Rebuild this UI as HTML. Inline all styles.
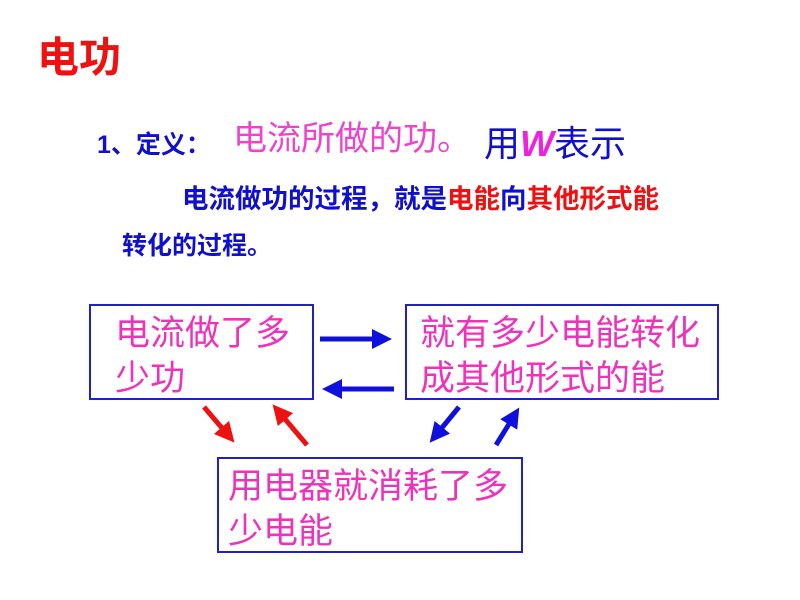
<!DOCTYPE html>
<html><head><meta charset="utf-8"><style>
body{margin:0;width:800px;height:600px;background:#fff;position:relative;overflow:hidden;font-family:"Liberation Sans","Noto Sans CJK SC",sans-serif}
.t{position:absolute;white-space:nowrap;line-height:1}
.box{position:absolute;border:2px solid #2020c8;box-sizing:border-box}
.p{color:#ee33bb}
</style></head><body>
<div class="t" style="left:37px;top:37px;font-size:42px;color:#ee1111;font-weight:bold">电功</div>
<div class="t" style="left:97px;top:133px;font-size:25px;color:#1010cc;font-weight:bold">1、定义：</div>
<div class="t p" style="left:233px;top:122px;font-size:34px;color:#ee44cc">电流所做的功。</div>
<div class="t" style="left:484px;top:126px;font-size:36px;color:#1010cc">用<span style="color:#ee22dd;font-weight:bold;font-style:italic">W</span>表示</div>
<div class="t" style="left:182px;top:186px;font-size:26.5px;color:#1010cc;font-weight:bold">电流做功的过程，就是<span style="color:#ee1111">电能</span>向<span style="color:#ee1111">其他形式能</span></div>
<div class="t" style="left:122px;top:234px;font-size:25px;color:#1010cc;font-weight:bold">转化的过程。</div>
<div class="box" style="left:89px;top:304px;width:225px;height:96px"></div>
<div class="box" style="left:405px;top:304px;width:314px;height:96px"></div>
<div class="box" style="left:217px;top:457px;width:306px;height:96px"></div>
<div class="t p" style="left:115px;top:311px;font-size:35px;line-height:45px">电流做了多<br>少功</div>
<div class="t p" style="left:420px;top:311px;font-size:35px;line-height:45px">就有多少电能转化<br>成其他形式的能</div>
<div class="t p" style="left:228px;top:464px;font-size:35px;line-height:45px">用电器就消耗了多<br>少电能</div>
<svg style="position:absolute;left:0;top:0" width="800" height="600">
<defs>
<marker id="b" markerWidth="4" markerHeight="4" refX="2" refY="2" orient="auto"><path d="M0,0L4,2L0,4z" fill="#1010dd"/></marker>
<marker id="r" markerWidth="4" markerHeight="4" refX="2" refY="2" orient="auto"><path d="M0,0L4,2L0,4z" fill="#ee1111"/></marker>
</defs>
<g stroke-width="5" fill="none">
<line x1="320" y1="339" x2="382" y2="339" stroke="#1010dd" marker-end="url(#b)"/>
<line x1="394" y1="389" x2="332" y2="389" stroke="#1010dd" marker-end="url(#b)"/>
<line x1="204" y1="407" x2="228" y2="435" stroke="#ee1111" marker-end="url(#r)"/>
<line x1="307" y1="445" x2="279" y2="412" stroke="#ee1111" marker-end="url(#r)"/>
<line x1="459" y1="407" x2="436" y2="435" stroke="#1010dd" marker-end="url(#b)"/>
<line x1="496" y1="445" x2="514" y2="416" stroke="#1010dd" marker-end="url(#b)"/>
</g></svg>
</body></html>
